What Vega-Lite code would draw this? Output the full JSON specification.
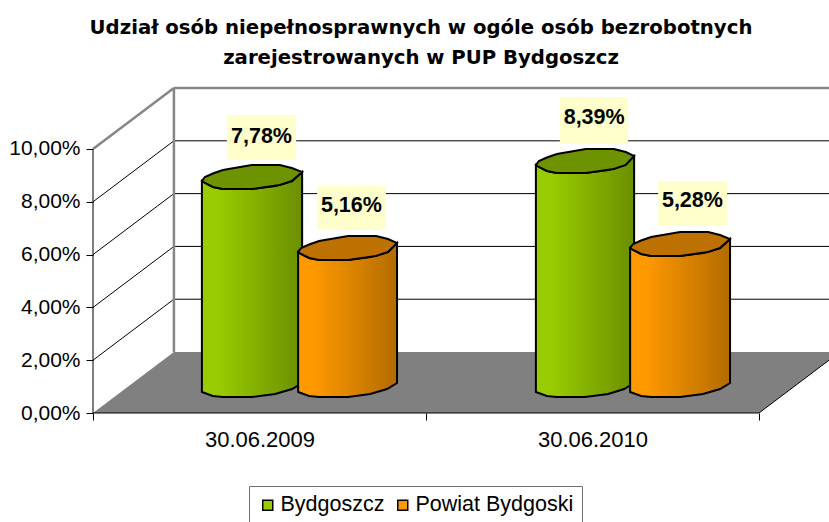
{"$schema":"https://vega.github.io/schema/vega-lite/v6.json","width":736,"height":325,"autosize":"none","padding":{"left":93,"top":88,"right":0,"bottom":109},"background":"white","title":{"text":["Udział osób niepełnosprawnych w ogóle osób bezrobotnych","zarejestrowanych w PUP Bydgoszcz"],"font":"DejaVu Sans","fontSize":19.7,"fontWeight":"bold","color":"#000000","lineHeight":30,"anchor":"middle","dx":-40,"offset":19},"config":{"view":{"stroke":null},"font":"Liberation Sans"},"datasets":{"floor":[{"x":0,"y":0,"y2":0},{"x":0.243,"y":0,"y2":2.31},{"x":2,"y":0,"y2":2.31},{"x":2.2102,"y":2.0,"y2":2.31}],"grid":[{"x":0,"y":2,"x2":0.243,"y2":4.31},{"x":0,"y":4,"x2":0.243,"y2":6.31},{"x":0,"y":6,"x2":0.243,"y2":8.31},{"x":0,"y":8,"x2":0.243,"y2":10.31},{"x":0.243,"y":4.31,"x2":2.2102,"y2":4.31},{"x":0.243,"y":6.31,"x2":2.2102,"y2":6.31},{"x":0.243,"y":8.31,"x2":2.2102,"y2":8.31},{"x":0.243,"y":10.31,"x2":2.2102,"y2":10.31},{"x":0,"y":0,"x2":0,"y2":10},{"x":0,"y":0,"x2":2,"y2":0},{"x":2,"y":0,"x2":2.2102,"y2":2.0}],"frame":[{"x":0,"y":10,"x2":0.243,"y2":12.31},{"x":0.243,"y":2.31,"x2":0.243,"y2":12.31},{"x":0.243,"y":12.31,"x2":2.2102,"y2":12.31}],"body":[{"id":"g1","series":"Bydgoszcz","x":0.327,"y":0.795,"y2":8.788},{"id":"g1","series":"Bydgoszcz","x":0.360,"y":0.644,"y2":8.561},{"id":"g1","series":"Bydgoszcz","x":0.390,"y":0.606,"y2":8.485},{"id":"g1","series":"Bydgoszcz","x":0.477,"y":0.606,"y2":8.485},{"id":"g1","series":"Bydgoszcz","x":0.547,"y":0.720,"y2":8.598},{"id":"g1","series":"Bydgoszcz","x":0.598,"y":0.909,"y2":8.788},{"id":"g1","series":"Bydgoszcz","x":0.628,"y":1.136,"y2":9.129},{"id":"o1","series":"Powiat Bydgoski","x":0.616,"y":0.795,"y2":6.098},{"id":"o1","series":"Powiat Bydgoski","x":0.649,"y":0.644,"y2":5.871},{"id":"o1","series":"Powiat Bydgoski","x":0.679,"y":0.606,"y2":5.795},{"id":"o1","series":"Powiat Bydgoski","x":0.766,"y":0.606,"y2":5.795},{"id":"o1","series":"Powiat Bydgoski","x":0.832,"y":0.720,"y2":5.909},{"id":"o1","series":"Powiat Bydgoski","x":0.883,"y":0.909,"y2":6.098},{"id":"o1","series":"Powiat Bydgoski","x":0.913,"y":1.136,"y2":6.439},{"id":"g2","series":"Bydgoszcz","x":1.330,"y":0.795,"y2":9.394},{"id":"g2","series":"Bydgoszcz","x":1.363,"y":0.644,"y2":9.167},{"id":"g2","series":"Bydgoszcz","x":1.393,"y":0.606,"y2":9.091},{"id":"g2","series":"Bydgoszcz","x":1.477,"y":0.606,"y2":9.091},{"id":"g2","series":"Bydgoszcz","x":1.547,"y":0.720,"y2":9.205},{"id":"g2","series":"Bydgoszcz","x":1.595,"y":0.909,"y2":9.394},{"id":"g2","series":"Bydgoszcz","x":1.625,"y":1.136,"y2":9.735},{"id":"o2","series":"Powiat Bydgoski","x":1.613,"y":0.795,"y2":6.25},{"id":"o2","series":"Powiat Bydgoski","x":1.646,"y":0.644,"y2":6.023},{"id":"o2","series":"Powiat Bydgoski","x":1.676,"y":0.606,"y2":5.947},{"id":"o2","series":"Powiat Bydgoski","x":1.763,"y":0.606,"y2":5.947},{"id":"o2","series":"Powiat Bydgoski","x":1.832,"y":0.720,"y2":6.061},{"id":"o2","series":"Powiat Bydgoski","x":1.883,"y":0.909,"y2":6.25},{"id":"o2","series":"Powiat Bydgoski","x":1.913,"y":1.136,"y2":6.591}],"cap":[{"id":"g1","series":"Bydgoszcz","x":0.327,"y":8.788,"y2":8.788},{"id":"g1","series":"Bydgoszcz","x":0.336,"y":8.712,"y2":8.940},{"id":"g1","series":"Bydgoszcz","x":0.360,"y":8.561,"y2":9.072},{"id":"g1","series":"Bydgoszcz","x":0.390,"y":8.485,"y2":9.205},{"id":"g1","series":"Bydgoszcz","x":0.477,"y":8.485,"y2":9.394},{"id":"g1","series":"Bydgoszcz","x":0.561,"y":8.636,"y2":9.394},{"id":"g1","series":"Bydgoszcz","x":0.597,"y":8.788,"y2":9.280},{"id":"g1","series":"Bydgoszcz","x":0.628,"y":9.129,"y2":9.129},{"id":"o1","series":"Powiat Bydgoski","x":0.616,"y":6.098,"y2":6.098},{"id":"o1","series":"Powiat Bydgoski","x":0.625,"y":6.022,"y2":6.250},{"id":"o1","series":"Powiat Bydgoski","x":0.649,"y":5.871,"y2":6.382},{"id":"o1","series":"Powiat Bydgoski","x":0.679,"y":5.795,"y2":6.515},{"id":"o1","series":"Powiat Bydgoski","x":0.766,"y":5.795,"y2":6.704},{"id":"o1","series":"Powiat Bydgoski","x":0.850,"y":5.946,"y2":6.704},{"id":"o1","series":"Powiat Bydgoski","x":0.886,"y":6.098,"y2":6.590},{"id":"o1","series":"Powiat Bydgoski","x":0.913,"y":6.439,"y2":6.439},{"id":"g2","series":"Bydgoszcz","x":1.330,"y":9.394,"y2":9.394},{"id":"g2","series":"Bydgoszcz","x":1.339,"y":9.318,"y2":9.546},{"id":"g2","series":"Bydgoszcz","x":1.363,"y":9.167,"y2":9.678},{"id":"g2","series":"Bydgoszcz","x":1.393,"y":9.091,"y2":9.811},{"id":"g2","series":"Bydgoszcz","x":1.480,"y":9.091,"y2":10.0},{"id":"g2","series":"Bydgoszcz","x":1.564,"y":9.242,"y2":10.0},{"id":"g2","series":"Bydgoszcz","x":1.600,"y":9.394,"y2":9.886},{"id":"g2","series":"Bydgoszcz","x":1.625,"y":9.735,"y2":9.735},{"id":"o2","series":"Powiat Bydgoski","x":1.613,"y":6.25,"y2":6.25},{"id":"o2","series":"Powiat Bydgoski","x":1.622,"y":6.174,"y2":6.402},{"id":"o2","series":"Powiat Bydgoski","x":1.646,"y":6.023,"y2":6.534},{"id":"o2","series":"Powiat Bydgoski","x":1.676,"y":5.947,"y2":6.667},{"id":"o2","series":"Powiat Bydgoski","x":1.763,"y":5.947,"y2":6.856},{"id":"o2","series":"Powiat Bydgoski","x":1.847,"y":6.098,"y2":6.856},{"id":"o2","series":"Powiat Bydgoski","x":1.883,"y":6.25,"y2":6.742},{"id":"o2","series":"Powiat Bydgoski","x":1.913,"y":6.591,"y2":6.591}],"labels":[{"date":"30.06.2009","series":"Bydgoszcz","label":"7,78%","x":0.402,"x2":0.610,"y":9.583,"y2":11.288,"cx":0.506,"cy":10.45},{"date":"30.06.2009","series":"Powiat Bydgoski","label":"5,16%","x":0.673,"x2":0.880,"y":6.932,"y2":8.598,"cx":0.776,"cy":7.84},{"date":"30.06.2010","series":"Bydgoszcz","label":"8,39%","x":1.402,"x2":1.607,"y":10.189,"y2":11.97,"cx":1.505,"cy":11.17},{"date":"30.06.2010","series":"Powiat Bydgoski","label":"5,28%","x":1.697,"x2":1.904,"y":7.083,"y2":8.788,"cx":1.80,"cy":8.03}]},"layer":[{"data":{"name":"floor"},"mark":{"type":"area","color":"#808080","interpolate":"linear","orient":"vertical"},"encoding":{"x":{"field":"x","type":"quantitative","scale":{"domain":[0,2.2102],"nice":false,"zero":false},"title":null,"axis":{"values":[0,0.5,1,1.5,2],"domain":false,"grid":false,"labelExpr":"datum.value==0.5?'30.06.2009':datum.value==1.5?'30.06.2010':''","labelFont":"Liberation Sans","labelFontSize":22,"labelColor":"#000000","labelPadding":9,"labelOverlap":false,"labelFlush":false,"tickColor":"#000000","tickSize":7,"tickOpacity":{"condition":{"test":"datum.value==0.5||datum.value==1.5","value":0},"value":1}}},"y":{"field":"y","type":"quantitative","scale":{"domain":[0,12.3106],"nice":false,"zero":false},"title":null,"axis":{"values":[0,2,4,6,8,10],"domain":false,"grid":false,"labelExpr":"replace(format(datum.value,'.2f'),'.',',')+'%'","labelFont":"Liberation Sans","labelFontSize":21,"labelColor":"#000000","labelPadding":6,"labelOverlap":false,"tickColor":"#000000","tickSize":7}},"y2":{"field":"y2"}}},{"data":{"name":"grid"},"mark":{"type":"rule","color":"#000000","strokeWidth":1},"encoding":{"x":{"field":"x","type":"quantitative"},"y":{"field":"y","type":"quantitative"},"x2":{"field":"x2"},"y2":{"field":"y2"}}},{"data":{"name":"frame"},"mark":{"type":"rule","color":"#868686","strokeWidth":2.5},"encoding":{"x":{"field":"x","type":"quantitative"},"y":{"field":"y","type":"quantitative"},"x2":{"field":"x2"},"y2":{"field":"y2"}}},{"data":{"name":"body"},"transform":[{"filter":"datum.series=='Bydgoszcz'"}],"mark":{"type":"area","stroke":"#000000","strokeWidth":2,"orient":"vertical"},"encoding":{"x":{"field":"x","type":"quantitative"},"y":{"field":"y","type":"quantitative"},"y2":{"field":"y2"},"detail":{"field":"id"},"color":{"field":"series","type":"nominal","scale":{"domain":["Bydgoszcz","Powiat Bydgoski"],"range":["#99CC00","#FF9900"]},"legend":{"title":null,"orient":"none","legendX":156,"legendY":398,"direction":"horizontal","columns":2,"fillColor":"#ffffff","strokeColor":"#707070","padding":8,"symbolType":"square","symbolSize":100,"symbolStrokeColor":"#000000","symbolStrokeWidth":1.5,"symbolOpacity":1,"labelFont":"Liberation Sans","labelFontSize":21.5,"labelColor":"#000000","labelLimit":300,"labelOffset":2,"columnPadding":7}}}},{"data":{"name":"body"},"transform":[{"filter":"datum.series=='Bydgoszcz'"}],"mark":{"type":"area","orient":"vertical","color":{"gradient":"linear","x1":0,"x2":1,"y1":0,"y2":0,"stops":[{"offset":0,"color":"rgba(0,0,0,0)"},{"offset":0.15,"color":"rgba(0,0,0,0)"},{"offset":1,"color":"rgba(0,0,0,0.3)"}]}},"encoding":{"x":{"field":"x","type":"quantitative"},"y":{"field":"y","type":"quantitative"},"y2":{"field":"y2"},"detail":{"field":"id"}}},{"data":{"name":"cap"},"transform":[{"filter":"datum.series=='Bydgoszcz'"}],"mark":{"type":"area","stroke":"#000000","strokeWidth":2,"orient":"vertical"},"encoding":{"x":{"field":"x","type":"quantitative"},"y":{"field":"y","type":"quantitative"},"y2":{"field":"y2"},"detail":{"field":"id"},"color":{"field":"series","type":"nominal"}}},{"data":{"name":"cap"},"transform":[{"filter":"datum.series=='Bydgoszcz'"}],"mark":{"type":"area","orient":"vertical","color":"#000000","opacity":0.28},"encoding":{"x":{"field":"x","type":"quantitative"},"y":{"field":"y","type":"quantitative"},"y2":{"field":"y2"},"detail":{"field":"id"}}},{"data":{"name":"body"},"transform":[{"filter":"datum.series!='Bydgoszcz'"}],"mark":{"type":"area","stroke":"#000000","strokeWidth":2,"orient":"vertical"},"encoding":{"x":{"field":"x","type":"quantitative"},"y":{"field":"y","type":"quantitative"},"y2":{"field":"y2"},"detail":{"field":"id"},"color":{"field":"series","type":"nominal"}}},{"data":{"name":"body"},"transform":[{"filter":"datum.series!='Bydgoszcz'"}],"mark":{"type":"area","orient":"vertical","color":{"gradient":"linear","x1":0,"x2":1,"y1":0,"y2":0,"stops":[{"offset":0,"color":"rgba(0,0,0,0)"},{"offset":0.15,"color":"rgba(0,0,0,0)"},{"offset":1,"color":"rgba(0,0,0,0.3)"}]}},"encoding":{"x":{"field":"x","type":"quantitative"},"y":{"field":"y","type":"quantitative"},"y2":{"field":"y2"},"detail":{"field":"id"}}},{"data":{"name":"cap"},"transform":[{"filter":"datum.series!='Bydgoszcz'"}],"mark":{"type":"area","stroke":"#000000","strokeWidth":2,"orient":"vertical"},"encoding":{"x":{"field":"x","type":"quantitative"},"y":{"field":"y","type":"quantitative"},"y2":{"field":"y2"},"detail":{"field":"id"},"color":{"field":"series","type":"nominal"}}},{"data":{"name":"cap"},"transform":[{"filter":"datum.series!='Bydgoszcz'"}],"mark":{"type":"area","orient":"vertical","color":"#000000","opacity":0.26},"encoding":{"x":{"field":"x","type":"quantitative"},"y":{"field":"y","type":"quantitative"},"y2":{"field":"y2"},"detail":{"field":"id"}}},{"data":{"name":"labels"},"mark":{"type":"rect","color":"#FFFFCC"},"encoding":{"x":{"field":"x","type":"quantitative"},"x2":{"field":"x2"},"y":{"field":"y","type":"quantitative"},"y2":{"field":"y2"}}},{"data":{"name":"labels"},"mark":{"type":"text","font":"Liberation Sans","fontWeight":"bold","fontSize":21.5,"color":"#000000","align":"center","baseline":"middle"},"encoding":{"x":{"field":"cx","type":"quantitative"},"y":{"field":"cy","type":"quantitative"},"text":{"field":"label"}}}]}
